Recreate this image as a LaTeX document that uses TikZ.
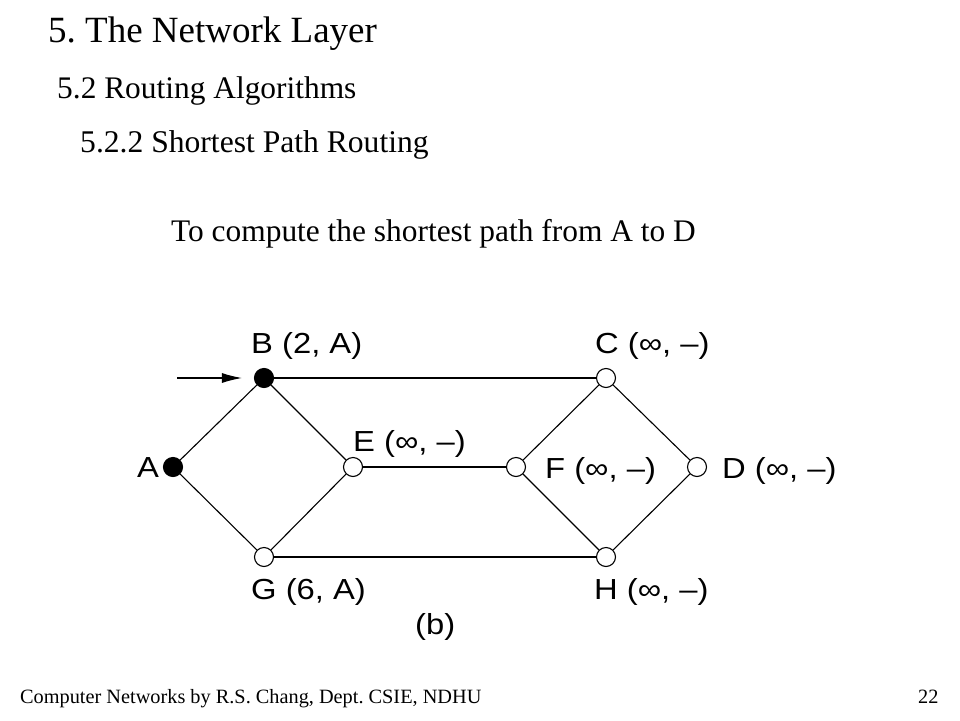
\documentclass[tikz,border=0pt]{standalone}
\usepackage{fontspec}
\setmainfont{Liberation Serif}
\newfontfamily\graphfont[FakeStretch=1.13]{Liberation Sans}
\usetikzlibrary{arrows.meta}
\frenchspacing
\begin{document}
\begin{tikzpicture}[x=1pt,y=-1pt,
  router/.style={circle,draw,line width=1.1pt,fill=white,minimum size=19pt,inner sep=0pt},
  done/.style={router,fill=black},
  lbl/.style={inner sep=0pt,font=\graphfont\fontsize{29}{32}\selectfont},
  link/.style={line width=1.1pt},
  txt/.style={anchor=base west,inner sep=0pt}]
\useasboundingbox (0,0) rectangle (960,720);
% headings
\node[txt,font=\fontsize{37}{42}\selectfont] (t1) at (48,42) {5. The Network Layer};
\node[txt,font=\fontsize{31.4}{36}\selectfont] (t2) at (57,98) {5.2 Routing Algorithms};
\node[txt,font=\fontsize{31.6}{36}\selectfont] (t3) at (80,152) {5.2.2 Shortest Path Routing};
\node[txt,font=\fontsize{31.4}{36}\selectfont] (t4) at (171,241) {To compute the shortest path from A to D};
\node[txt,font=\fontsize{20.3}{24}\selectfont] (f1) at (20,703) {Computer Networks by R.S. Chang, Dept. CSIE, NDHU};
\node[txt,font=\fontsize{20.3}{24}\selectfont] (f2) at (918,703) {22};
% routers
\node[done]   (A) at (173,467) {};
\node[done]   (B) at (264,378) {};
\node[router] (C) at (606,378) {};
\node[router] (E) at (353,467) {};
\node[router] (F) at (516,467) {};
\node[router] (D) at (697,467) {};
\node[router] (G) at (264,557) {};
\node[router] (H) at (606,557) {};
% links
\draw[link] (A) -- (B);
\draw[link] (A) -- (G);
\draw[link] (B) -- (E);
\draw[link] (G) -- (E);
\draw[link] (B) -- (C);
\draw[link] (G) -- (H);
\draw[link] (E) -- (F);
\draw[link] (F) -- (C);
\draw[link] (F) -- (H);
\draw[link] (C) -- (D);
\draw[link] (H) -- (D);
% labels
\node[lbl,anchor=west] (lA) at (137,468) {A};
\node[lbl,anchor=west] (lB) at (251,346) {B (2, A)};
\node[lbl,anchor=west] (lC) at (595,346) {C (\char"221E, \char"2013)};
\node[lbl,anchor=west] (lE) at (353,444) {E (\char"221E, \char"2013)};
\node[lbl,anchor=west] (lF) at (545,471) {F (\char"221E, \char"2013)};
\node[lbl,anchor=west] (lD) at (722,471) {D (\char"221E, \char"2013)};
\node[lbl,anchor=west] (lG) at (251,592) {G (6, A)};
\node[lbl,anchor=west] (lH) at (594,592) {H (\char"221E, \char"2013)};
\node[lbl,anchor=west] (lb) at (415,627) {(b)};
% arrow
\coordinate (s) at (177,378);
\draw[line width=1.1pt,-{Latex[length=20pt,width=10pt]}] (s) -- ([xshift=-12pt]B.west);
\end{tikzpicture}
\end{document}
